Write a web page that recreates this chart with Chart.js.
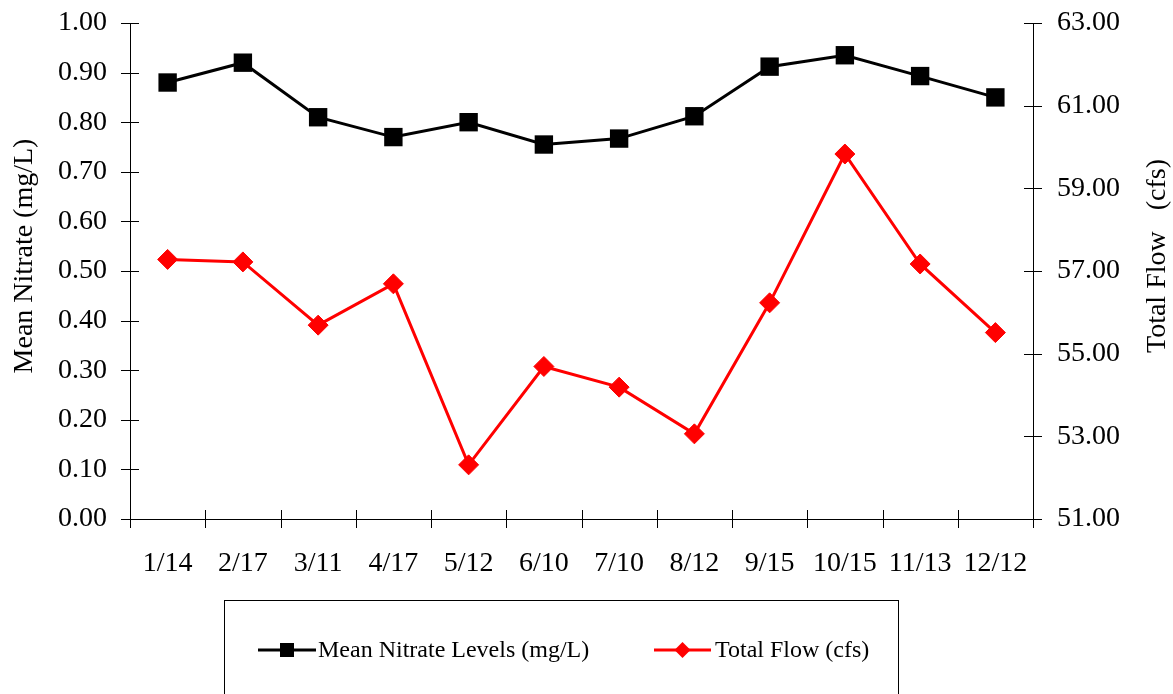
<!DOCTYPE html>
<html>
<head>
<meta charset="utf-8">
<script src="https://cdn.jsdelivr.net/npm/chart.js@4/dist/chart.umd.min.js"></script>
<style>
  html, body { margin: 0; padding: 0; background: #fff; }
  #wrap { width: 1173px; height: 694px; }
</style>
</head>
<body>
<div id="wrap"><canvas id="nitrateChart"></canvas></div>
<script>
const dates = ["1/14", "2/17", "3/11", "4/17", "5/12", "6/10", "7/10", "8/12", "9/15", "10/15", "11/13", "12/12"];
const nitrate = [0.88, 0.92, 0.81, 0.77, 0.80, 0.755, 0.767, 0.812, 0.912, 0.935, 0.893, 0.85];
const flow = [57.28, 57.22, 55.69, 56.69, 52.31, 54.69, 54.19, 53.06, 56.23, 59.83, 57.17, 55.51];

const FONT = "'Liberation Serif', 'Times New Roman', serif";

// tick marks that cross the axis lines, like the old Excel look
const crossTicks = {
  id: "crossTicks",
  afterDraw(chart) {
    const { ctx, scales } = chart;
    const x = scales.x, yl = scales.y, yr = scales.y1;
    ctx.save();
    ctx.strokeStyle = "#000";
    ctx.lineWidth = 1;
    ctx.beginPath();
    yl.ticks.forEach(t => {
      const py = Math.round(yl.getPixelForValue(t.value)) + 0.5;
      ctx.moveTo(yl.right - 9, py);
      ctx.lineTo(yl.right + 9, py);
    });
    yr.ticks.forEach(t => {
      const py = Math.round(yr.getPixelForValue(t.value)) + 0.5;
      ctx.moveTo(yr.left - 9, py);
      ctx.lineTo(yr.left + 9, py);
    });
    const step = x.getPixelForTick(1) - x.getPixelForTick(0);
    for (let i = 0; i <= dates.length; i++) {
      const px = Math.round(x.getPixelForTick(0) - step / 2 + i * step) + 0.5;
      ctx.moveTo(px, x.top - 9);
      ctx.lineTo(px, x.top + 9);
    }
    ctx.stroke();

    // axis titles
    ctx.fillStyle = "#000";
    ctx.font = "28px " + FONT;
    ctx.textAlign = "center";
    ctx.textBaseline = "middle";
    ctx.translate(25, 256);
    ctx.rotate(-Math.PI / 2);
    ctx.fillText("Mean Nitrate (mg/L)", 0, 0);
    ctx.restore();

    ctx.save();
    ctx.fillStyle = "#000";
    ctx.font = "28px " + FONT;
    ctx.textAlign = "center";
    ctx.textBaseline = "middle";
    ctx.translate(1158, 256);
    ctx.rotate(-Math.PI / 2);
    ctx.fillText("Total Flow   (cfs)", 0, 0);
    ctx.restore();
  }
};

// boxed legend under the plot
const boxLegend = {
  id: "boxLegend",
  afterDraw(chart) {
    const { ctx } = chart;
    const ds = chart.data.datasets;
    ctx.save();
    ctx.strokeStyle = "#000";
    ctx.lineWidth = 1;
    ctx.strokeRect(224.5, 600.5, 674, 120);

    const items = [
      { x0: 258, x1: 316, tx: 318 },
      { x0: 654, x1: 711, tx: 715 }
    ];
    const ly = 650;
    ctx.font = "24px " + FONT;
    ctx.textBaseline = "middle";
    items.forEach((it, i) => {
      const d = ds[i];
      ctx.strokeStyle = d.borderColor;
      ctx.lineWidth = 3;
      ctx.beginPath();
      ctx.moveTo(it.x0, ly);
      ctx.lineTo(it.x1, ly);
      ctx.stroke();
      const mx = (it.x0 + it.x1) / 2;
      ctx.fillStyle = d.backgroundColor;
      ctx.beginPath();
      if (d.pointStyle === "rect") {
        ctx.rect(mx - 7, ly - 7, 14, 14);
      } else {
        ctx.moveTo(mx, ly - 8);
        ctx.lineTo(mx + 8, ly);
        ctx.lineTo(mx, ly + 8);
        ctx.lineTo(mx - 8, ly);
        ctx.closePath();
      }
      ctx.fill();
      ctx.fillStyle = "#000";
      ctx.fillText(d.label, it.tx, ly + 1);
    });
    ctx.restore();
  }
};

new Chart(document.getElementById("nitrateChart"), {
  type: "line",
  data: {
    labels: dates,
    datasets: [
      {
        label: "Mean Nitrate Levels (mg/L)",
        data: nitrate,
        yAxisID: "y",
        borderColor: "#000000",
        backgroundColor: "#000000",
        borderWidth: 3,
        pointStyle: "rect",
        pointRadius: 13,
        pointBorderWidth: 0,
        tension: 0
      },
      {
        label: "Total Flow (cfs)",
        data: flow,
        yAxisID: "y1",
        borderColor: "#ff0000",
        backgroundColor: "#ff0000",
        borderWidth: 3,
        pointStyle: "rectRot",
        pointRadius: 10,
        pointBorderWidth: 1,
        tension: 0
      }
    ]
  },
  options: {
    responsive: true,
    maintainAspectRatio: false,
    animation: false,
    layout: { padding: { top: 23, bottom: 0, left: 0, right: 0 } },
    plugins: {
      legend: { display: false },
      tooltip: { enabled: false }
    },
    scales: {
      x: {
        offset: true,
        grid: { display: false, drawTicks: false },
        border: { display: true, color: "#000", width: 1 },
        ticks: { color: "#000", font: { family: FONT, size: 28 }, padding: 28, maxRotation: 0, autoSkip: false },
        afterFit: s => { s.height = 175; }
      },
      y: {
        position: "left",
        min: 0,
        max: 1,
        grid: { display: false, drawTicks: true, tickLength: 23 },
        border: { display: true, color: "#000", width: 1 },
        ticks: {
          stepSize: 0.1,
          color: "#000",
          font: { family: FONT, size: 28 },
          padding: 0,
          callback: v => v.toFixed(2)
        },
        afterFit: s => { s.width = 130; }
      },
      y1: {
        position: "right",
        min: 51,
        max: 63,
        grid: { display: false, drawTicks: true, tickLength: 24 },
        border: { display: true, color: "#000", width: 1 },
        ticks: {
          stepSize: 2,
          color: "#000",
          font: { family: FONT, size: 28 },
          padding: 0,
          callback: v => v.toFixed(2)
        },
        afterFit: s => { s.width = 140; }
      }
    }
  },
  plugins: [crossTicks, boxLegend]
});
</script>
</body>
</html>
